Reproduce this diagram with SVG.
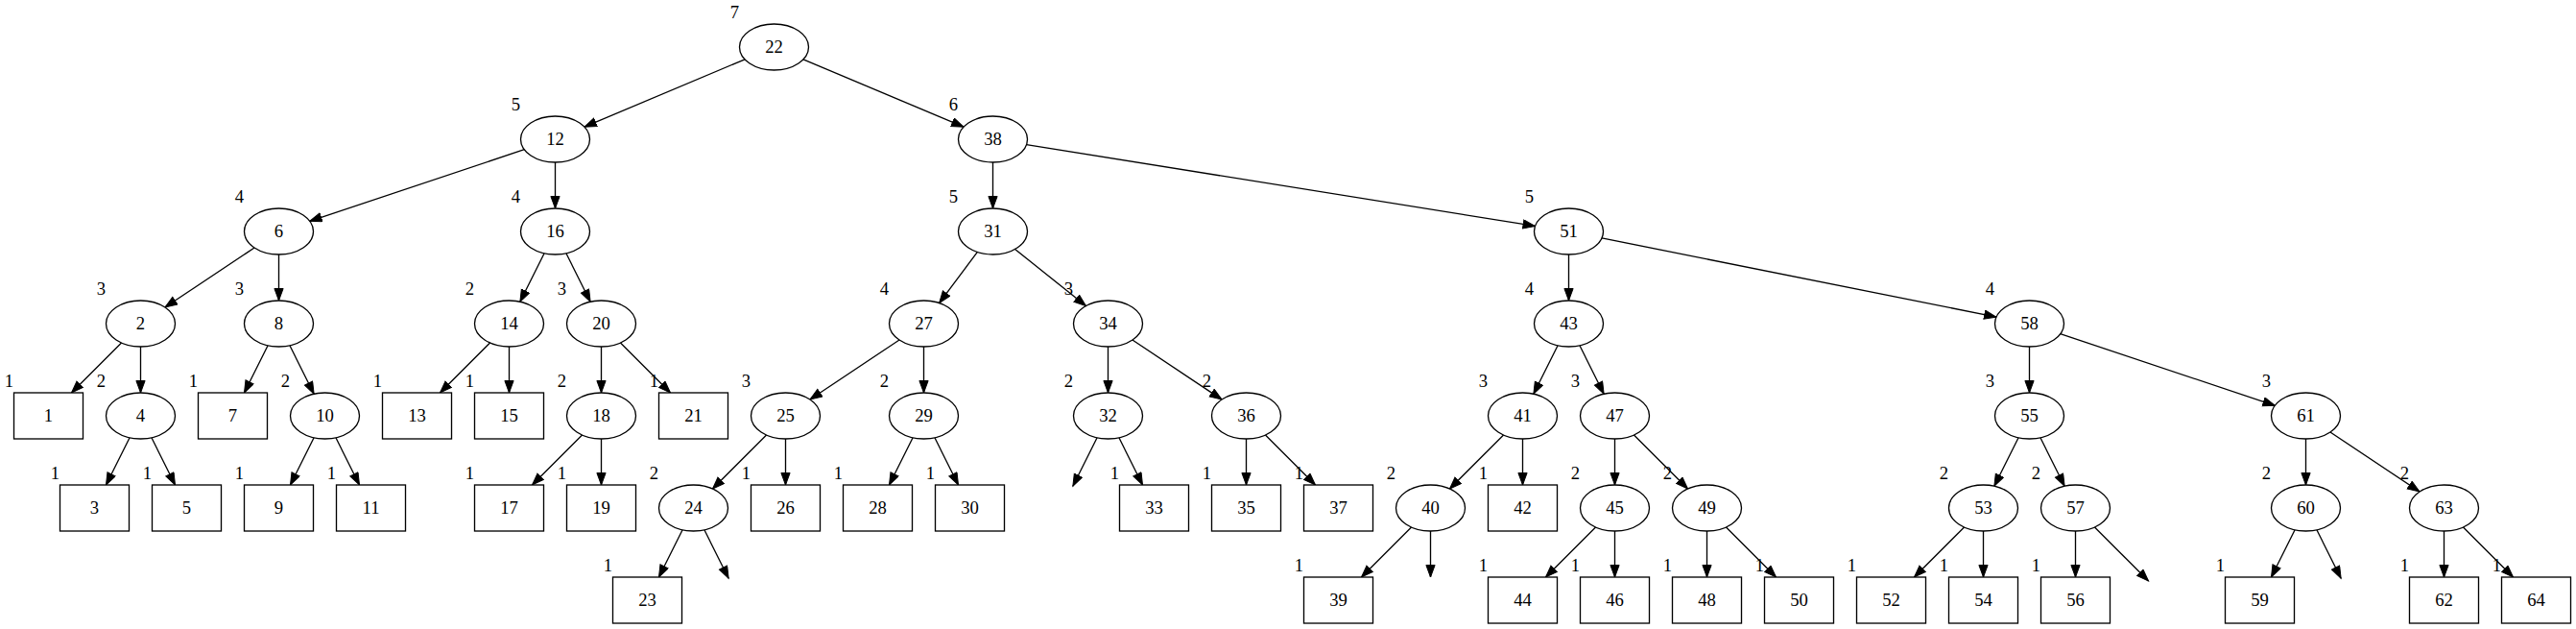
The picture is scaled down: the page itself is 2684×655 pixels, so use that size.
<svg xmlns="http://www.w3.org/2000/svg" width="2684" height="655" viewBox="0 0 2684 655">
<style>
.e{fill:#fff;stroke:#000;stroke-width:1.33}
.b{fill:#fff;stroke:#000;stroke-width:1.33}
.t{font-family:"Liberation Serif","Times New Roman",serif;font-size:18.67px;text-anchor:middle;fill:#000}
.l{font-family:"Liberation Serif","Times New Roman",serif;font-size:18.67px;text-anchor:middle;fill:#000}
#edges line{stroke:#000;stroke-width:1.33;marker-end:url(#ah)}
</style>
<defs>
<marker id="ah" markerUnits="userSpaceOnUse" markerWidth="16" markerHeight="12" refX="13" refY="5" orient="auto">
<path d="M0.5,0.4 L13,5 L0.5,9.6 z" fill="#000" stroke="#000" stroke-width="1"/>
</marker>
</defs>
<rect width="2684" height="655" fill="#fff"/>
<g id="edges">
<line x1="776.06" y1="61.82" x2="608.94" y2="132.18"/>
<line x1="836.94" y1="61.82" x2="1004.06" y2="132.18"/>
<line x1="546.3" y1="155.73" x2="322.7" y2="230.27"/>
<line x1="578.5" y1="169" x2="578.5" y2="217"/>
<line x1="265.04" y1="257.97" x2="171.96" y2="320.03"/>
<line x1="290.5" y1="265" x2="290.5" y2="313"/>
<line x1="126.53" y1="356.97" x2="74.5" y2="409"/>
<line x1="146.5" y1="361" x2="146.5" y2="409"/>
<line x1="135.12" y1="455.77" x2="110.5" y2="505"/>
<line x1="157.88" y1="455.77" x2="182.5" y2="505"/>
<line x1="279.12" y1="359.77" x2="254.5" y2="409"/>
<line x1="301.88" y1="359.77" x2="327.12" y2="410.23"/>
<line x1="327.12" y1="455.77" x2="302.5" y2="505"/>
<line x1="349.88" y1="455.77" x2="374.5" y2="505"/>
<line x1="567.12" y1="263.77" x2="541.88" y2="314.23"/>
<line x1="589.88" y1="263.77" x2="615.12" y2="314.23"/>
<line x1="510.53" y1="356.97" x2="458.5" y2="409"/>
<line x1="530.5" y1="361" x2="530.5" y2="409"/>
<line x1="626.5" y1="361" x2="626.5" y2="409"/>
<line x1="646.47" y1="356.97" x2="698.5" y2="409"/>
<line x1="606.53" y1="452.97" x2="554.5" y2="505"/>
<line x1="626.5" y1="457" x2="626.5" y2="505"/>
<line x1="1034.5" y1="169" x2="1034.5" y2="217"/>
<line x1="1069.5" y1="150.6" x2="1599.5" y2="235.4"/>
<line x1="1018.4" y1="262.47" x2="978.6" y2="315.53"/>
<line x1="1057.55" y1="259.44" x2="1131.45" y2="318.56"/>
<line x1="937.04" y1="353.97" x2="843.96" y2="416.03"/>
<line x1="962.5" y1="361" x2="962.5" y2="409"/>
<line x1="798.53" y1="452.97" x2="742.47" y2="509.03"/>
<line x1="818.5" y1="457" x2="818.5" y2="505"/>
<line x1="711.12" y1="551.77" x2="686.5" y2="601"/>
<line x1="733.88" y1="551.77" x2="759.12" y2="602.23"/>
<line x1="951.12" y1="455.77" x2="926.5" y2="505"/>
<line x1="973.88" y1="455.77" x2="998.5" y2="505"/>
<line x1="1154.5" y1="361" x2="1154.5" y2="409"/>
<line x1="1179.96" y1="353.97" x2="1273.04" y2="416.03"/>
<line x1="1143.12" y1="455.77" x2="1117.88" y2="506.23"/>
<line x1="1165.88" y1="455.77" x2="1190.5" y2="505"/>
<line x1="1298.5" y1="457" x2="1298.5" y2="505"/>
<line x1="1318.47" y1="452.97" x2="1370.5" y2="505"/>
<line x1="1634.5" y1="265" x2="1634.5" y2="313"/>
<line x1="1668.98" y1="247.9" x2="2080.02" y2="330.1"/>
<line x1="1623.12" y1="359.77" x2="1597.88" y2="410.23"/>
<line x1="1645.88" y1="359.77" x2="1671.12" y2="410.23"/>
<line x1="1566.53" y1="452.97" x2="1510.47" y2="509.03"/>
<line x1="1586.5" y1="457" x2="1586.5" y2="505"/>
<line x1="1682.5" y1="457" x2="1682.5" y2="505"/>
<line x1="1702.47" y1="452.97" x2="1758.53" y2="509.03"/>
<line x1="1470.53" y1="548.97" x2="1418.5" y2="601"/>
<line x1="1490.5" y1="553" x2="1490.5" y2="601"/>
<line x1="1662.53" y1="548.97" x2="1610.5" y2="601"/>
<line x1="1682.5" y1="553" x2="1682.5" y2="601"/>
<line x1="1778.5" y1="553" x2="1778.5" y2="601"/>
<line x1="1798.47" y1="548.97" x2="1850.5" y2="601"/>
<line x1="2114.5" y1="361" x2="2114.5" y2="409"/>
<line x1="2146.7" y1="347.73" x2="2370.3" y2="422.27"/>
<line x1="2103.12" y1="455.77" x2="2077.88" y2="506.23"/>
<line x1="2125.88" y1="455.77" x2="2151.12" y2="506.23"/>
<line x1="2046.53" y1="548.97" x2="1994.5" y2="601"/>
<line x1="2066.5" y1="553" x2="2066.5" y2="601"/>
<line x1="2162.5" y1="553" x2="2162.5" y2="601"/>
<line x1="2182.47" y1="548.97" x2="2238.53" y2="605.03"/>
<line x1="2402.5" y1="457" x2="2402.5" y2="505"/>
<line x1="2427.96" y1="449.97" x2="2521.04" y2="512.03"/>
<line x1="2391.12" y1="551.77" x2="2366.5" y2="601"/>
<line x1="2413.88" y1="551.77" x2="2439.12" y2="602.23"/>
<line x1="2546.5" y1="553" x2="2546.5" y2="601"/>
<line x1="2566.47" y1="548.97" x2="2618.5" y2="601"/>
</g>
<g id="n22"><ellipse class="e" cx="806.5" cy="49" rx="36" ry="24"/><text class="t" x="806.5" y="54.5">22</text><text class="l" x="765.5" y="18.5">7</text></g>
<g id="n12"><ellipse class="e" cx="578.5" cy="145" rx="36" ry="24"/><text class="t" x="578.5" y="150.5">12</text><text class="l" x="537.5" y="114.5">5</text></g>
<g id="n38"><ellipse class="e" cx="1034.5" cy="145" rx="36" ry="24"/><text class="t" x="1034.5" y="150.5">38</text><text class="l" x="993.5" y="114.5">6</text></g>
<g id="n6"><ellipse class="e" cx="290.5" cy="241" rx="36" ry="24"/><text class="t" x="290.5" y="246.5">6</text><text class="l" x="249.5" y="210.5">4</text></g>
<g id="n16"><ellipse class="e" cx="578.5" cy="241" rx="36" ry="24"/><text class="t" x="578.5" y="246.5">16</text><text class="l" x="537.5" y="210.5">4</text></g>
<g id="n31"><ellipse class="e" cx="1034.5" cy="241" rx="36" ry="24"/><text class="t" x="1034.5" y="246.5">31</text><text class="l" x="993.5" y="210.5">5</text></g>
<g id="n51"><ellipse class="e" cx="1634.5" cy="241" rx="36" ry="24"/><text class="t" x="1634.5" y="246.5">51</text><text class="l" x="1593.5" y="210.5">5</text></g>
<g id="n2"><ellipse class="e" cx="146.5" cy="337" rx="36" ry="24"/><text class="t" x="146.5" y="342.5">2</text><text class="l" x="105.5" y="306.5">3</text></g>
<g id="n8"><ellipse class="e" cx="290.5" cy="337" rx="36" ry="24"/><text class="t" x="290.5" y="342.5">8</text><text class="l" x="249.5" y="306.5">3</text></g>
<g id="n14"><ellipse class="e" cx="530.5" cy="337" rx="36" ry="24"/><text class="t" x="530.5" y="342.5">14</text><text class="l" x="489.5" y="306.5">2</text></g>
<g id="n20"><ellipse class="e" cx="626.5" cy="337" rx="36" ry="24"/><text class="t" x="626.5" y="342.5">20</text><text class="l" x="585.5" y="306.5">3</text></g>
<g id="n27"><ellipse class="e" cx="962.5" cy="337" rx="36" ry="24"/><text class="t" x="962.5" y="342.5">27</text><text class="l" x="921.5" y="306.5">4</text></g>
<g id="n34"><ellipse class="e" cx="1154.5" cy="337" rx="36" ry="24"/><text class="t" x="1154.5" y="342.5">34</text><text class="l" x="1113.5" y="306.5">3</text></g>
<g id="n43"><ellipse class="e" cx="1634.5" cy="337" rx="36" ry="24"/><text class="t" x="1634.5" y="342.5">43</text><text class="l" x="1593.5" y="306.5">4</text></g>
<g id="n58"><ellipse class="e" cx="2114.5" cy="337" rx="36" ry="24"/><text class="t" x="2114.5" y="342.5">58</text><text class="l" x="2073.5" y="306.5">4</text></g>
<g id="n4"><ellipse class="e" cx="146.5" cy="433" rx="36" ry="24"/><text class="t" x="146.5" y="438.5">4</text><text class="l" x="105.5" y="402.5">2</text></g>
<g id="n10"><ellipse class="e" cx="338.5" cy="433" rx="36" ry="24"/><text class="t" x="338.5" y="438.5">10</text><text class="l" x="297.5" y="402.5">2</text></g>
<g id="n18"><ellipse class="e" cx="626.5" cy="433" rx="36" ry="24"/><text class="t" x="626.5" y="438.5">18</text><text class="l" x="585.5" y="402.5">2</text></g>
<g id="n25"><ellipse class="e" cx="818.5" cy="433" rx="36" ry="24"/><text class="t" x="818.5" y="438.5">25</text><text class="l" x="777.5" y="402.5">3</text></g>
<g id="n29"><ellipse class="e" cx="962.5" cy="433" rx="36" ry="24"/><text class="t" x="962.5" y="438.5">29</text><text class="l" x="921.5" y="402.5">2</text></g>
<g id="n32"><ellipse class="e" cx="1154.5" cy="433" rx="36" ry="24"/><text class="t" x="1154.5" y="438.5">32</text><text class="l" x="1113.5" y="402.5">2</text></g>
<g id="n36"><ellipse class="e" cx="1298.5" cy="433" rx="36" ry="24"/><text class="t" x="1298.5" y="438.5">36</text><text class="l" x="1257.5" y="402.5">2</text></g>
<g id="n41"><ellipse class="e" cx="1586.5" cy="433" rx="36" ry="24"/><text class="t" x="1586.5" y="438.5">41</text><text class="l" x="1545.5" y="402.5">3</text></g>
<g id="n47"><ellipse class="e" cx="1682.5" cy="433" rx="36" ry="24"/><text class="t" x="1682.5" y="438.5">47</text><text class="l" x="1641.5" y="402.5">3</text></g>
<g id="n55"><ellipse class="e" cx="2114.5" cy="433" rx="36" ry="24"/><text class="t" x="2114.5" y="438.5">55</text><text class="l" x="2073.5" y="402.5">3</text></g>
<g id="n61"><ellipse class="e" cx="2402.5" cy="433" rx="36" ry="24"/><text class="t" x="2402.5" y="438.5">61</text><text class="l" x="2361.5" y="402.5">3</text></g>
<g id="n24"><ellipse class="e" cx="722.5" cy="529" rx="36" ry="24"/><text class="t" x="722.5" y="534.5">24</text><text class="l" x="681.5" y="498.5">2</text></g>
<g id="n40"><ellipse class="e" cx="1490.5" cy="529" rx="36" ry="24"/><text class="t" x="1490.5" y="534.5">40</text><text class="l" x="1449.5" y="498.5">2</text></g>
<g id="n45"><ellipse class="e" cx="1682.5" cy="529" rx="36" ry="24"/><text class="t" x="1682.5" y="534.5">45</text><text class="l" x="1641.5" y="498.5">2</text></g>
<g id="n49"><ellipse class="e" cx="1778.5" cy="529" rx="36" ry="24"/><text class="t" x="1778.5" y="534.5">49</text><text class="l" x="1737.5" y="498.5">2</text></g>
<g id="n53"><ellipse class="e" cx="2066.5" cy="529" rx="36" ry="24"/><text class="t" x="2066.5" y="534.5">53</text><text class="l" x="2025.5" y="498.5">2</text></g>
<g id="n57"><ellipse class="e" cx="2162.5" cy="529" rx="36" ry="24"/><text class="t" x="2162.5" y="534.5">57</text><text class="l" x="2121.5" y="498.5">2</text></g>
<g id="n60"><ellipse class="e" cx="2402.5" cy="529" rx="36" ry="24"/><text class="t" x="2402.5" y="534.5">60</text><text class="l" x="2361.5" y="498.5">2</text></g>
<g id="n63"><ellipse class="e" cx="2546.5" cy="529" rx="36" ry="24"/><text class="t" x="2546.5" y="534.5">63</text><text class="l" x="2505.5" y="498.5">2</text></g>
<g id="n1"><rect class="b" x="14.5" y="409" width="72" height="48"/><text class="t" x="50.5" y="438.5">1</text><text class="l" x="9.5" y="402.5">1</text></g>
<g id="n13"><rect class="b" x="398.5" y="409" width="72" height="48"/><text class="t" x="434.5" y="438.5">13</text><text class="l" x="393.5" y="402.5">1</text></g>
<g id="n7"><rect class="b" x="206.5" y="409" width="72" height="48"/><text class="t" x="242.5" y="438.5">7</text><text class="l" x="201.5" y="402.5">1</text></g>
<g id="n15"><rect class="b" x="494.5" y="409" width="72" height="48"/><text class="t" x="530.5" y="438.5">15</text><text class="l" x="489.5" y="402.5">1</text></g>
<g id="n21"><rect class="b" x="686.5" y="409" width="72" height="48"/><text class="t" x="722.5" y="438.5">21</text><text class="l" x="681.5" y="402.5">1</text></g>
<g id="n3"><rect class="b" x="62.5" y="505" width="72" height="48"/><text class="t" x="98.5" y="534.5">3</text><text class="l" x="57.5" y="498.5">1</text></g>
<g id="n5"><rect class="b" x="158.5" y="505" width="72" height="48"/><text class="t" x="194.5" y="534.5">5</text><text class="l" x="153.5" y="498.5">1</text></g>
<g id="n9"><rect class="b" x="254.5" y="505" width="72" height="48"/><text class="t" x="290.5" y="534.5">9</text><text class="l" x="249.5" y="498.5">1</text></g>
<g id="n11"><rect class="b" x="350.5" y="505" width="72" height="48"/><text class="t" x="386.5" y="534.5">11</text><text class="l" x="345.5" y="498.5">1</text></g>
<g id="n17"><rect class="b" x="494.5" y="505" width="72" height="48"/><text class="t" x="530.5" y="534.5">17</text><text class="l" x="489.5" y="498.5">1</text></g>
<g id="n19"><rect class="b" x="590.5" y="505" width="72" height="48"/><text class="t" x="626.5" y="534.5">19</text><text class="l" x="585.5" y="498.5">1</text></g>
<g id="n26"><rect class="b" x="782.5" y="505" width="72" height="48"/><text class="t" x="818.5" y="534.5">26</text><text class="l" x="777.5" y="498.5">1</text></g>
<g id="n28"><rect class="b" x="878.5" y="505" width="72" height="48"/><text class="t" x="914.5" y="534.5">28</text><text class="l" x="873.5" y="498.5">1</text></g>
<g id="n30"><rect class="b" x="974.5" y="505" width="72" height="48"/><text class="t" x="1010.5" y="534.5">30</text><text class="l" x="969.5" y="498.5">1</text></g>
<g id="n33"><rect class="b" x="1166.5" y="505" width="72" height="48"/><text class="t" x="1202.5" y="534.5">33</text><text class="l" x="1161.5" y="498.5">1</text></g>
<g id="n35"><rect class="b" x="1262.5" y="505" width="72" height="48"/><text class="t" x="1298.5" y="534.5">35</text><text class="l" x="1257.5" y="498.5">1</text></g>
<g id="n37"><rect class="b" x="1358.5" y="505" width="72" height="48"/><text class="t" x="1394.5" y="534.5">37</text><text class="l" x="1353.5" y="498.5">1</text></g>
<g id="n42"><rect class="b" x="1550.5" y="505" width="72" height="48"/><text class="t" x="1586.5" y="534.5">42</text><text class="l" x="1545.5" y="498.5">1</text></g>
<g id="n23"><rect class="b" x="638.5" y="601" width="72" height="48"/><text class="t" x="674.5" y="630.5">23</text><text class="l" x="633.5" y="594.5">1</text></g>
<g id="n39"><rect class="b" x="1358.5" y="601" width="72" height="48"/><text class="t" x="1394.5" y="630.5">39</text><text class="l" x="1353.5" y="594.5">1</text></g>
<g id="n44"><rect class="b" x="1550.5" y="601" width="72" height="48"/><text class="t" x="1586.5" y="630.5">44</text><text class="l" x="1545.5" y="594.5">1</text></g>
<g id="n46"><rect class="b" x="1646.5" y="601" width="72" height="48"/><text class="t" x="1682.5" y="630.5">46</text><text class="l" x="1641.5" y="594.5">1</text></g>
<g id="n48"><rect class="b" x="1742.5" y="601" width="72" height="48"/><text class="t" x="1778.5" y="630.5">48</text><text class="l" x="1737.5" y="594.5">1</text></g>
<g id="n50"><rect class="b" x="1838.5" y="601" width="72" height="48"/><text class="t" x="1874.5" y="630.5">50</text><text class="l" x="1833.5" y="594.5">1</text></g>
<g id="n52"><rect class="b" x="1934.5" y="601" width="72" height="48"/><text class="t" x="1970.5" y="630.5">52</text><text class="l" x="1929.5" y="594.5">1</text></g>
<g id="n54"><rect class="b" x="2030.5" y="601" width="72" height="48"/><text class="t" x="2066.5" y="630.5">54</text><text class="l" x="2025.5" y="594.5">1</text></g>
<g id="n56"><rect class="b" x="2126.5" y="601" width="72" height="48"/><text class="t" x="2162.5" y="630.5">56</text><text class="l" x="2121.5" y="594.5">1</text></g>
<g id="n59"><rect class="b" x="2318.5" y="601" width="72" height="48"/><text class="t" x="2354.5" y="630.5">59</text><text class="l" x="2313.5" y="594.5">1</text></g>
<g id="n62"><rect class="b" x="2510.5" y="601" width="72" height="48"/><text class="t" x="2546.5" y="630.5">62</text><text class="l" x="2505.5" y="594.5">1</text></g>
<g id="n64"><rect class="b" x="2606.5" y="601" width="72" height="48"/><text class="t" x="2642.5" y="630.5">64</text><text class="l" x="2601.5" y="594.5">1</text></g>
</svg>
